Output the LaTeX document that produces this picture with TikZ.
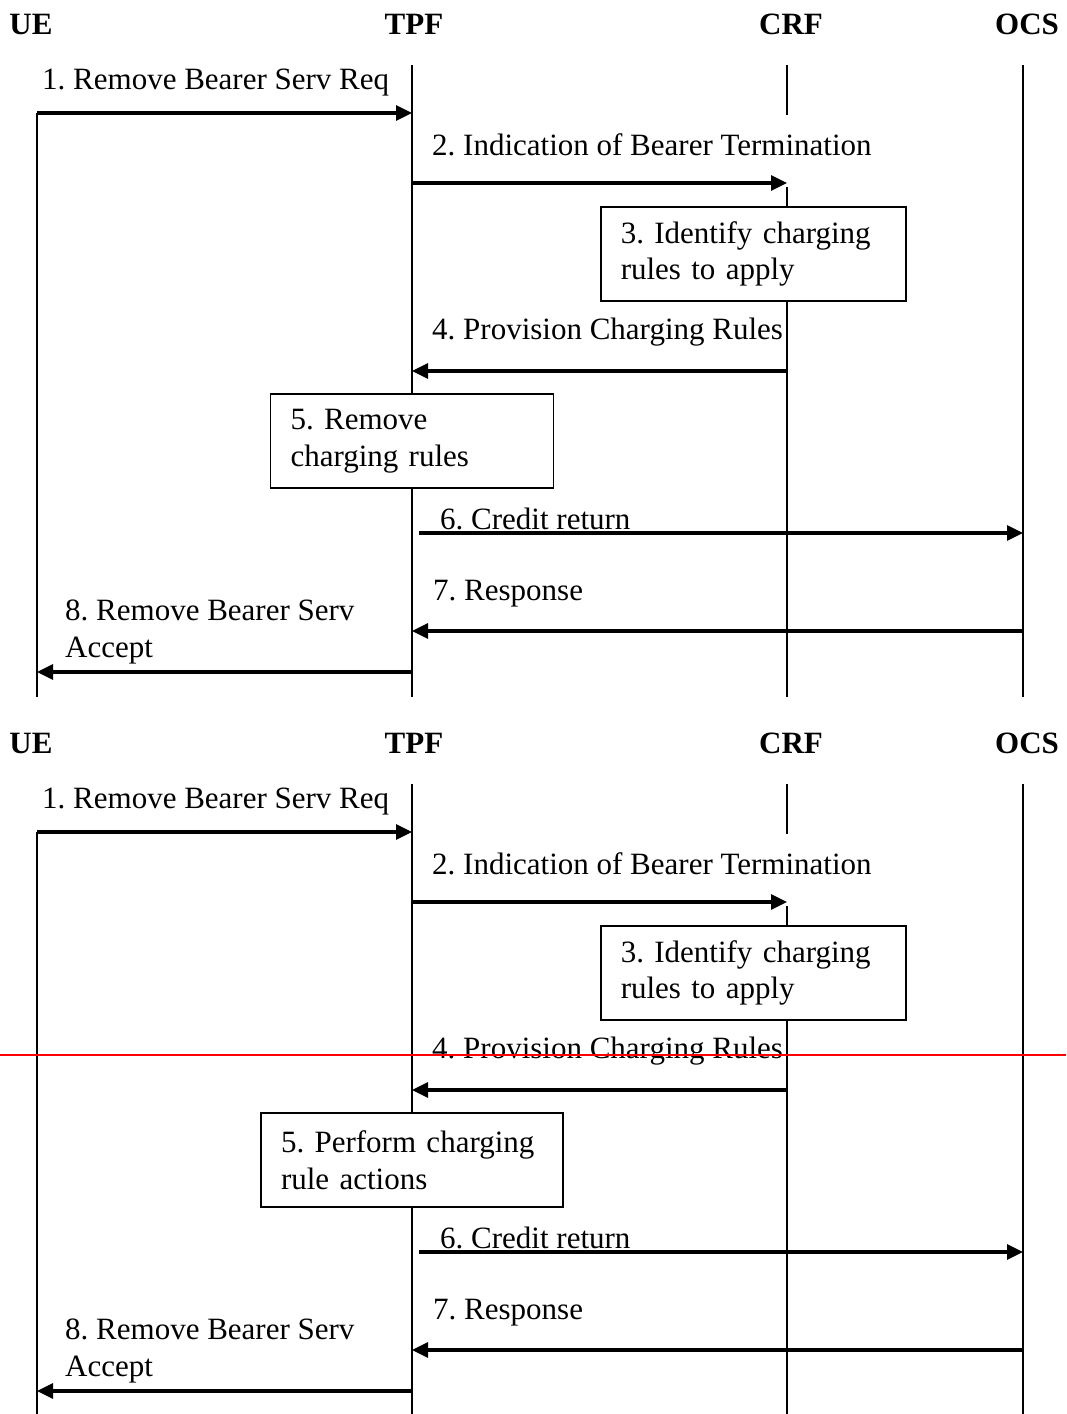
\documentclass[tikz,border=0pt]{standalone}
\usepackage{fontspec}
\setmainfont{Liberation Serif}
\usetikzlibrary{arrows.meta,positioning}
\frenchspacing

\begin{document}
\begin{tikzpicture}[
    x=1pt, y=1pt,
    font=\fontsize{31}{36.5}\selectfont,
    >={Triangle[length=16pt,width=15pt]},
    actor/.style={font=\fontsize{31}{36.5}\selectfont\bfseries, anchor=base, inner sep=0pt},
    life/.style={draw=black, line width=1.5pt},
    msg/.style={->, line width=3.2pt},
    note/.style={anchor=base west, inner sep=0pt, align=left},
    action/.style={
      draw,
      line width=1.5pt,
      fill=white,
      align=left,
      inner xsep=20pt,
      inner ysep=0pt,
      minimum height=94pt
    }
  ]
  \useasboundingbox (0,0) rectangle (1066,-1414);

  \foreach \p/\dy/\ruletext/\rulewd in {a/0/{5. Remove\\charging rules}/243,
      b/719/{5. Perform charging\\rule actions}/262} {
    \begin{scope}[yshift=-\dy pt]
      % entities
      \node[actor] (\p-ue)  at (31,-34)   {UE};
      \node[actor] (\p-tpf) at (414,-34)  {TPF};
      \node[actor] (\p-crf) at (791,-34)  {CRF};
      \node[actor] (\p-ocs) at (1027,-34) {OCS};

      % lifelines
      \coordinate (\p-ueT)  at (37,-113);
      \coordinate (\p-tpfT) at (412,-65);
      \coordinate (\p-crfT) at (787,-65);
      \coordinate (\p-ocsT) at (1023,-65);
      \coordinate (\p-end)  at (0,-697);
      \coordinate (\p-gap)  at (0,-115);
      \coordinate (\p-gapend) at (0,-187);
      \draw[life] (\p-ueT) -- (\p-ueT |- \p-end);
      \draw[life] (\p-tpfT) -- (\p-tpfT |- \p-end);
      \draw[life] (\p-crfT) -- (\p-crfT |- \p-gap);
      \draw[life] (\p-crfT |- \p-gapend) -- (\p-crfT |- \p-end);
      \draw[life] (\p-ocsT) -- (\p-ocsT |- \p-end);

      % message rows
      \coordinate (\p-m1) at (0,-113);
      \coordinate (\p-m2) at (0,-183);
      \coordinate (\p-m4) at (0,-371);
      \coordinate (\p-m6) at (419,-533);
      \coordinate (\p-m7) at (0,-631);
      \coordinate (\p-m8) at (0,-672);

      \node[note] (\p-l1) at (42,-89)   {1. Remove Bearer Serv Req};
      \node[note] (\p-l2) at (432,-155) {2. Indication of Bearer Termination};
      \node[note] (\p-l4) at (432,-339) {4. Provision Charging Rules};
      \node[note] (\p-l6) at (440,-529) {6. Credit return};
      \node[note] (\p-l7) at (433,-600) {7. Response};
      \node[note] (\p-l8) at (65,-657)  {8. Remove Bearer Serv\\Accept};

      \node[action, text width=265pt, anchor=north west] (\p-b3) at (600,-206)
        {3. Identify charging\\rules to apply};
      \node[action, text width=\rulewd pt] (\p-b5) at (412,-441) {\ruletext};

      \draw[msg] (\p-ueT |- \p-m1) -- (\p-tpfT |- \p-m1);
      \draw[msg] (\p-tpfT |- \p-m2) -- (\p-crfT |- \p-m2);
      \draw[msg] (\p-crfT |- \p-m4) -- (\p-tpfT |- \p-m4);
      \draw[msg] (\p-m6) -- (\p-ocsT |- \p-m6);
      \draw[msg] (\p-ocsT |- \p-m7) -- (\p-tpfT |- \p-m7);
      \draw[msg] (\p-tpfT |- \p-m8) -- (\p-ueT |- \p-m8);
    \end{scope}
  }

  % page cut mark
  \coordinate (cutL) at (0,-1055);
  \coordinate (cutR) at (1066,-1055);
  \draw[draw=red, line width=1.5pt] (cutL) -- (cutR);
\end{tikzpicture}
\end{document}
